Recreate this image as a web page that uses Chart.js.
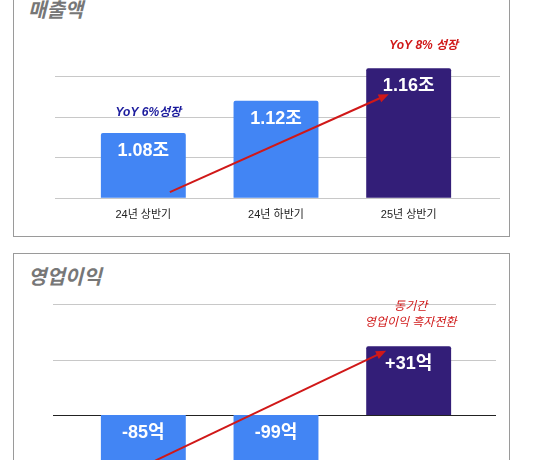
<!DOCTYPE html>
<html><head><meta charset="utf-8">
<script src="https://cdn.jsdelivr.net/npm/chart.js@4"></script>
<style>
html,body{margin:0;padding:0;width:535px;height:460px;overflow:hidden;background:#fff}
.panel{position:absolute;left:13px;width:497px;border:1px solid #9a9a9a;box-sizing:border-box}
.title{position:absolute;left:28px;font:italic bold 20px "Liberation Sans","Noto Sans CJK KR";color:#777}
canvas{position:absolute;left:0}
</style></head><body>
<div class="panel" style="top:-12px;height:249px"></div>
<div class="panel" style="top:253px;height:300px"></div>
<div class="title" style="top:-6px">매출액</div>
<div class="title" style="top:261px">영업이익</div>
<canvas id="c1" width="535" height="240" style="top:0"></canvas>
<canvas id="c2" width="535" height="300" style="top:253px"></canvas>
<script>
const categories = ['24년 상반기','24년 하반기','25년 상반기'];
const revenue = [1.08, 1.12, 1.16];
const revenueLabels = ['1.08조','1.12조','1.16조'];
const profit = [-85, -99, 31];
const profitLabels = ['-85억','-99억','+31억'];
const colors = ['#4285f4','#4285f4','#331e78'];

const KR = '"Liberation Sans", "Noto Sans CJK KR", sans-serif';

function mkPlugin(labels, arrow, notes, grid){
  return {
    id:'deco',
    beforeDatasetsDraw(chart){
      const ctx = chart.ctx, ys = chart.scales.y;
      ctx.save(); ctx.lineWidth = 1;
      grid.vals.forEach(v=>{
        const y = Math.round(ys.getPixelForValue(v)) + 0.5;
        ctx.strokeStyle = v === grid.dark ? '#222' : '#c8c8c8';
        ctx.beginPath(); ctx.moveTo(grid.x0, y); ctx.lineTo(grid.x1, y); ctx.stroke();
      });
      ctx.restore();
    },
    afterDatasetsDraw(chart){
      const ctx = chart.ctx, meta = chart.getDatasetMeta(0);
      const xs = chart.scales.x, ys = chart.scales.y;
      ctx.save();
      ctx.fillStyle = '#fff';
      ctx.font = 'bold 18px ' + KR;
      ctx.textAlign = 'center'; ctx.textBaseline = 'middle';
      meta.data.forEach((b,i)=>{
        const v = chart.data.datasets[0].data[i];
        const y = v >= 0 ? b.y + 18 : b.base + 18;
        ctx.fillText(labels[i], b.x, y);
      });
      const step = xs.getPixelForValue(1)-xs.getPixelForValue(0);
      const x0 = xs.getPixelForValue(0) + arrow[0][0]*step;
      const x1 = xs.getPixelForValue(2) + arrow[1][0]*step;
      const y0 = ys.getPixelForValue(arrow[0][1]), y1 = ys.getPixelForValue(arrow[1][1]);
      ctx.strokeStyle = '#d01818'; ctx.fillStyle = '#d01818'; ctx.lineWidth = 2;
      const ang = Math.atan2(y1-y0, x1-x0);
      ctx.beginPath(); ctx.moveTo(x0,y0); ctx.lineTo(x1-8*Math.cos(ang), y1-8*Math.sin(ang)); ctx.stroke();
      ctx.beginPath(); ctx.moveTo(x1,y1);
      ctx.lineTo(x1-11*Math.cos(ang-0.4), y1-11*Math.sin(ang-0.4));
      ctx.lineTo(x1-11*Math.cos(ang+0.4), y1-11*Math.sin(ang+0.4));
      ctx.closePath(); ctx.fill();
      notes.forEach(n=>{
        ctx.font = n.font; ctx.fillStyle = n.color;
        ctx.fillText(n.text, xs.getPixelForValue(n.i) + n.dx, ys.getPixelForValue(n.v));
      });
      ctx.restore();
    }
  };
}

function mkChart(id, data, yopt, padding, labels, arrow, notes, grid){
  return new Chart(document.getElementById(id), {
    type:'bar',
    data:{labels:categories, datasets:[{data, backgroundColor:colors, borderRadius:2, borderSkipped:'start',
      categoryPercentage:0.8, barPercentage:0.8}]},
    options:{
      responsive:false, animation:false,
      layout:{padding},
      plugins:{legend:{display:false}, tooltip:{enabled:false}},
      scales:{
        x:{grid:{display:false}, border:{display:false},
           ticks:{color:'#222', font:{size:11, family:KR}, padding:3}},
        y:Object.assign({border:{display:false}, grid:{display:false},
           afterFit(s){ s.width = 0; }}, yopt)
      }
    },
    plugins:[mkPlugin(labels, arrow, notes, grid)]
  });
}

const revenueTicks = [1.0, 1.05, 1.10, 1.15];
const profitTicks = [-25, 0, 25, 50];

mkChart('c1', revenue, {min:1.0, max:1.2, ticks:{display:false}},
  {left:77, right:60, top:36, bottom:15}, revenueLabels,
  [[0.2, 1.007],[-0.15, 1.128]],
  [{text:'YoY 6%성장', i:0, dx:5, v:1.105, font:'italic bold 12px '+KR, color:'#1a1a9c'},
   {text:'YoY 8% 성장', i:2, dx:15, v:1.188, font:'italic bold 12px '+KR, color:'#d01818'}],
  {vals:revenueTicks, x0:55, x1:500, dark:null});

mkChart('c2', profit, {min:-50, max:60, ticks:{display:false}},
  {left:77, right:60, top:29, bottom:0}, profitLabels,
  [[0.09, -20.6],[-0.17, 29]],
  [{text:'동기간', i:2, dx:2, v:49, font:'italic 12px '+KR, color:'#d01818'},
   {text:'영업이익 흑자전환', i:2, dx:2, v:41.5, font:'italic 12px '+KR, color:'#d01818'}],
  {vals:profitTicks, x0:53, x1:496, dark:0});
</script>
</body></html>
